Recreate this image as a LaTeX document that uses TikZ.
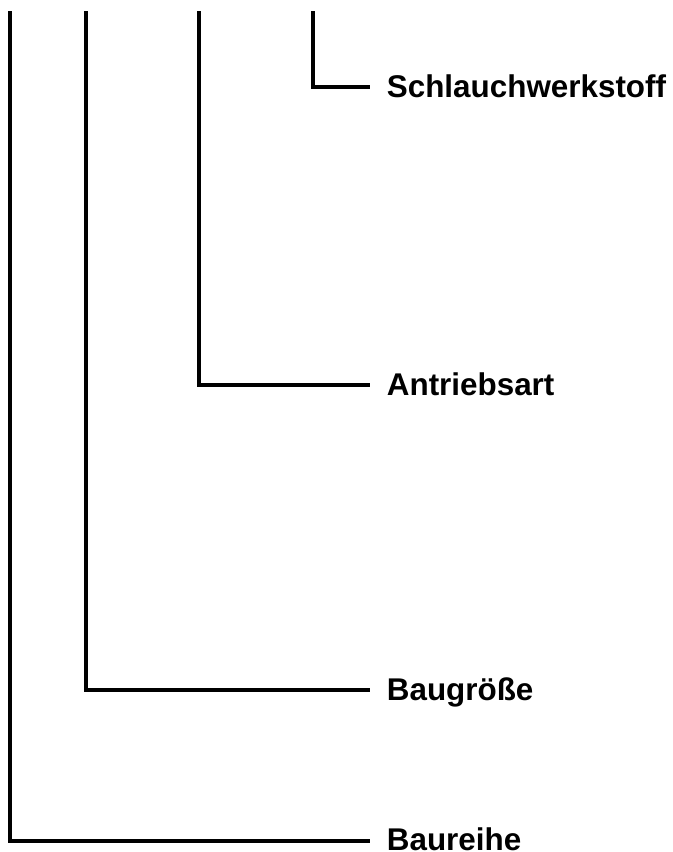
\documentclass[tikz,border=0pt]{standalone}
\usepackage{fontspec}
\setmainfont{Liberation Sans}
\begin{document}
\begin{tikzpicture}[x=0.5pt,y=-0.5pt,
  branch/.style={line width=2pt, line join=miter},
  lbl/.style={anchor=base west, inner sep=0pt, font=\fontsize{15.7}{19}\bfseries\selectfont}]
\useasboundingbox (0,0) rectangle (673,852);
\coordinate (t1) at (10,11);
\coordinate (t2) at (86,11);
\coordinate (t3) at (199,11);
\coordinate (t4) at (313,11);
\coordinate (c1) at (10,841);
\coordinate (c2) at (86,690);
\coordinate (c3) at (199,385);
\coordinate (c4) at (313,87);
\coordinate (e1) at (370,841);
\coordinate (e2) at (370,690);
\coordinate (e3) at (370,385);
\coordinate (e4) at (370,87);
\node[lbl] (n1) at (386.5,850.5) {Baureihe};
\node[lbl] (n2) at (386.5,700) {Baugröße};
\node[lbl] (n3) at (386.5,395) {Antriebsart};
\node[lbl] (n4) at (386.5,97) {Schlauchwerkstoff};
\draw[branch] (t1) -- (c1) -- (e1);
\draw[branch] (t2) -- (c2) -- (e2);
\draw[branch] (t3) -- (c3) -- (e3);
\draw[branch] (t4) -- (c4) -- (e4);
\end{tikzpicture}
\end{document}
